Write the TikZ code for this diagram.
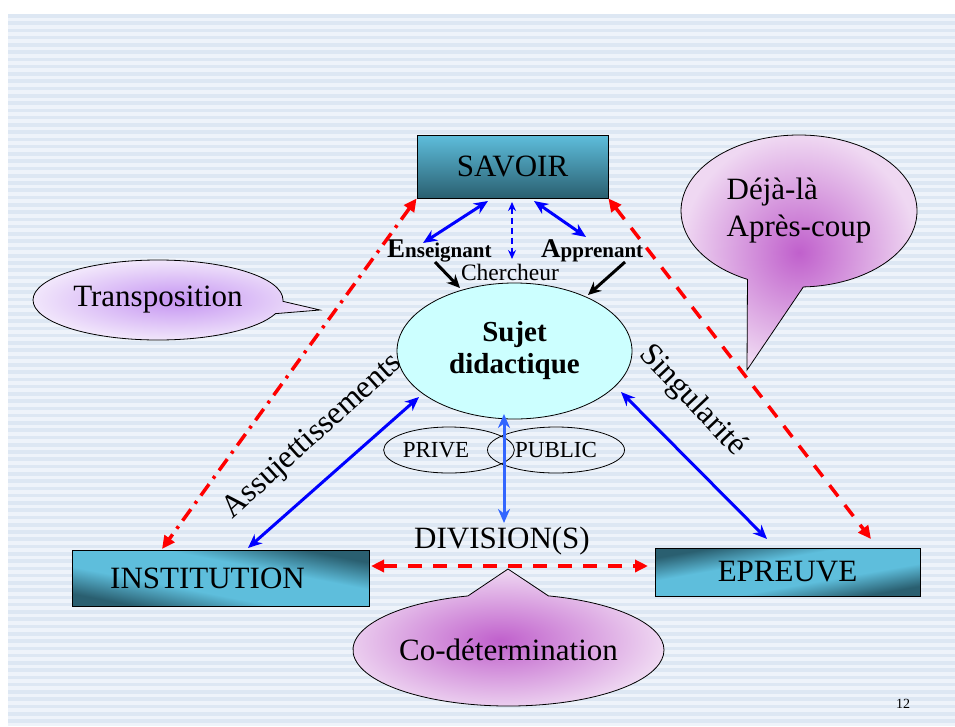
\documentclass[tikz,border=0pt]{standalone}
\usepackage{fontspec}
\setmainfont{Liberation Serif}
\usetikzlibrary{arrows.meta,shapes.geometric,shapes.callouts}
\definecolor{boxlight}{HTML}{5EBEDC}
\definecolor{boxdark}{HTML}{2A5F70}
\definecolor{bgA}{HTML}{EEF3FA}
\definecolor{bgB}{HTML}{DDE7F3}
\definecolor{sujetfill}{HTML}{CCFFFF}
\definecolor{violetin}{HTML}{C594F2}
\definecolor{violetout}{HTML}{F1E6FB}
\definecolor{orchidin}{HTML}{C060CC}
\definecolor{orchidout}{HTML}{EFD8F2}
\definecolor{lightblue}{HTML}{3366FF}
\definecolor{dred}{HTML}{FF0000}
\pgfdeclareverticalshading{cornershade}{100bp}{color(0bp)=(boxdark); color(27bp)=(boxdark); color(41bp)=(boxlight); color(59bp)=(boxlight); color(73bp)=(boxdark); color(100bp)=(boxdark)}
\newcommand\fsz[2]{\fontsize{#1}{#2}\selectfont}
\begin{document}
\begin{tikzpicture}[x=1pt,y=-1pt,
  box/.style={draw=black, line width=0.8pt, inner sep=0pt, font=\fsz{31}{37}},
  callbub/.style={ellipse callout, draw=black, line width=0.8pt, inner sep=0pt, font=\fsz{31}{37}},
  bluearrow/.style={draw=blue, line width=3pt, {Stealth[length=14pt,width=12pt]}-{Stealth[length=14pt,width=12pt]}},
  blackarrow/.style={draw=black, line width=3pt, -{Stealth[length=13pt,width=12pt]}},
  reddash/.style={draw=dred, line width=3.5pt, dash pattern=on 14pt off 11pt, {Triangle[length=13pt,width=12pt]}-{Triangle[length=13pt,width=12pt]}},
  reddashdot/.style={draw=dred, line width=3.5pt, dash pattern=on 14pt off 7pt on 3pt off 7pt, {Triangle[length=13pt,width=12pt]}-{Triangle[length=13pt,width=12pt]}},
  lbl/.style={inner sep=0pt}
]
\useasboundingbox (0,0) rectangle (955,726);
% background
\fill[white] (0,0) rectangle (955,726);
\fill[bgA] (8,14) rectangle (955,726);
\foreach \i in {0,...,97} {\fill[bgB] (8,14+7.27*\i) rectangle (955,14+7.27*\i+3.6);}

% boxes
\node[box, top color=boxlight, bottom color=boxdark, minimum width=191pt, minimum height=63pt] (savoir) at (512.5,166.5) {SAVOIR};
\node[box, shading=cornershade, shading angle=-11, minimum width=297pt, minimum height=56pt] (inst) at (220.5,578) {INSTITUTION\kern26pt};
\node[box, shading=cornershade, shading angle=10, minimum width=265pt, minimum height=48pt] (epreuve) at (787.5,572) {EPREUVE};

% sujet didactique
\node[ellipse, draw=black, line width=0.8pt, fill=sujetfill, minimum width=235pt, minimum height=136pt, inner sep=0pt, align=center, font=\bfseries\fsz{29}{32}] (sujet) at (514.5,351) {Sujet\\didactique};
\node[ellipse, draw=black, line width=0.8pt, minimum width=118pt, minimum height=46pt, inner sep=0pt, font=\fsz{23}{27}] (prive) at (449,450) {PRIVE\kern26pt};
\node[ellipse, draw=black, line width=0.8pt, minimum width=137pt, minimum height=46pt, inner sep=0pt, font=\fsz{23}{27}] (public) at (556,450) {PUBLIC};

% callouts
\node[callbub, inner color=violetin, outer color=violetout, minimum width=250pt, minimum height=80pt, callout pointer arc=18, callout absolute pointer={(320,310)}] (transp) at (158,300) {Transposition};
\node[callbub, inner color=orchidin, outer color=orchidout, minimum width=236pt, minimum height=152pt, callout pointer arc=28, callout absolute pointer={(747,370)}, align=left] (deja) at (799,211) {Déjà-là\\Après-coup};
\node[callbub, inner color=orchidin, outer color=orchidout, minimum width=311pt, minimum height=112pt, callout pointer arc=30, callout absolute pointer={(508,569)}] (codet) at (508.5,650) {Co-détermination};

% labels
\node[lbl, anchor=base west] (ens) at (387,257) {\bfseries\fsz{27}{30}E\fsz{21}{24}nseignant};
\node[lbl, anchor=base west] (app) at (541,257) {\bfseries\fsz{27}{30}A\fsz{21}{24}pprenant};
\node[lbl, anchor=base, font=\fsz{23.5}{27}] (cherch) at (510,280) {Chercheur};
\node[lbl, font=\fsz{31}{37}] (div) at (502,541) {DIVISION(S)};
\node[lbl, rotate=42, font=\fsz{32}{38}] (assu) at (313,437) {Assujettissements};
\node[lbl, rotate=-46.5, font=\fsz{32}{38}] (sing) at (692,401) {Singularité};
\node[lbl, font=\fsz{14}{16}] (pg) at (903,704) {12};

% connector endpoints
\coordinate (sv1) at (488,201);
\coordinate (en1) at (423,243);
\coordinate (sv2) at (512,202);
\coordinate (ch1) at (512,259);
\coordinate (sv3) at (534,201);
\coordinate (ap1) at (586,237);
\coordinate (en2) at (435,262);
\coordinate (sj1) at (460,288);
\coordinate (ap2) at (625,262);
\coordinate (sj2) at (588,295);
\coordinate (inst1) at (162,549);
\coordinate (ep1) at (871,539);
\coordinate (inst2) at (248,548);
\coordinate (sj3) at (419,397);
\coordinate (sj4) at (621,392);
\coordinate (ep2) at (767,539);
\coordinate (sj5) at (504,414);
\coordinate (dv1) at (504,523);
\coordinate (inst3) at (371,566);
\coordinate (ep3) at (648,566);

% connectors
\draw[bluearrow] (sv1) -- (en1);
\draw[draw=blue, line width=1.5pt, dash pattern=on 6pt off 4pt, {Stealth[length=9pt,width=8pt]}-{Stealth[length=9pt,width=8pt]}] (sv2) -- (ch1);
\draw[bluearrow] (sv3) -- (ap1);
\draw[blackarrow] (en2) -- (sj1);
\draw[blackarrow] (ap2) -- (sj2);
\draw[reddashdot] (savoir.south west) -- (inst1);
\draw[reddash] (savoir.south east) -- (ep1);
\draw[bluearrow] (inst2) -- (sj3);
\draw[bluearrow] (sj4) -- (ep2);
\draw[draw=lightblue, line width=3pt, {Stealth[length=14pt,width=12pt]}-{Stealth[length=14pt,width=12pt]}] (sj5) -- (dv1);
\draw[reddash] (inst3) -- (ep3);
\end{tikzpicture}
\end{document}
